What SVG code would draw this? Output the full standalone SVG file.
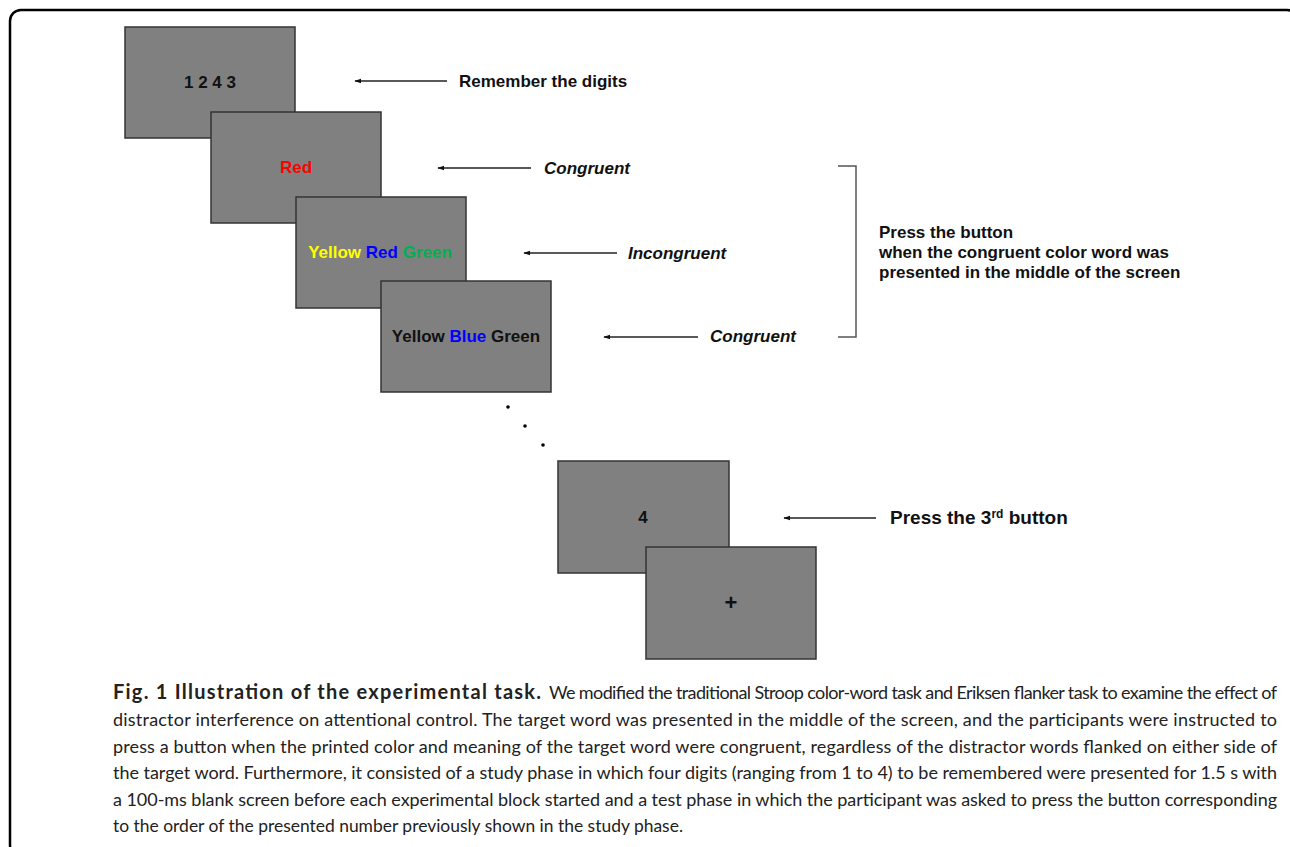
<svg xmlns="http://www.w3.org/2000/svg" width="1290" height="847" viewBox="0 0 1290 847">
<defs>
<marker id="ah" viewBox="0 0 10 10" refX="1" refY="5" markerWidth="7" markerHeight="7" markerUnits="userSpaceOnUse" orient="auto">
<path d="M10,1.5 L0,5 L10,8.5 Z" fill="#111"/>
</marker>
<style>
.scr{fill:#808080;stroke:#333;stroke-width:1.5}
.t{font-family:"Liberation Sans",Arial,sans-serif;font-weight:bold;font-size:17px;fill:#111}
.c{text-anchor:middle}
.i{font-style:italic}
.arr{stroke:#222;stroke-width:1.4;fill:none;marker-start:url(#ah)}
.cap{font-family:Lato,"Open Sans",sans-serif;font-size:18px;fill:#222}
</style>
</defs>
<rect x="10" y="10" width="1288" height="846" rx="11" fill="#fff" stroke="#000" stroke-width="2.5"/>
<g id="screen1"><rect class="scr" x="125" y="27" width="170" height="111"/><text class="t c" x="210" y="88">1 2 4 3</text></g>
<g id="screen2"><rect class="scr" x="211" y="112" width="170" height="111"/><text class="t c" x="296" y="173" style="fill:#ff0000">Red</text></g>
<g id="screen3"><rect class="scr" x="296" y="197" width="170" height="111"/><text class="t c" x="380" y="258"><tspan style="fill:#ffff00">Yellow</tspan> <tspan style="fill:#0000ff">Red</tspan> <tspan style="fill:#00b050">Green</tspan></text></g>
<g id="screen4"><rect class="scr" x="381" y="281" width="170" height="111"/><text class="t c" x="466" y="342">Yellow <tspan style="fill:#0000ff">Blue</tspan> Green</text></g>
<g id="dots" fill="#000"><circle cx="508" cy="407" r="1.8"/><circle cx="525" cy="426" r="1.8"/><circle cx="543" cy="445" r="1.8"/></g>
<g id="screen5"><rect class="scr" x="558" y="461" width="171" height="112"/><text class="t c" x="643" y="523">4</text></g>
<g id="screen6"><rect class="scr" x="646" y="547" width="170" height="112"/><text class="t c" x="731" y="610" style="font-size:22px">+</text></g>
<g id="connectors">
<line class="arr" x1="355" y1="81" x2="447" y2="81"/>
<line class="arr" x1="438" y1="168" x2="531" y2="168"/>
<line class="arr" x1="524" y1="253" x2="617" y2="253"/>
<line class="arr" x1="604" y1="337" x2="698" y2="337"/>
<line class="arr" x1="784" y1="518" x2="876" y2="518"/>
<path d="M838,166 H856 V337 H838" fill="none" stroke="#555" stroke-width="1.5"/>
</g>
<g id="labels">
<text class="t" x="459" y="87">Remember the digits</text>
<text class="t i" x="544" y="174">Congruent</text>
<text class="t i" x="628" y="259">Incongruent</text>
<text class="t i" x="710" y="342">Congruent</text>
<text class="t" x="879" y="238">Press the button</text>
<text class="t" x="879" y="258">when the congruent color word was</text>
<text class="t" x="879" y="278">presented in the middle of the screen</text>
<text class="t" x="890" y="524" style="font-size:19px">Press the 3<tspan dy="-6" style="font-size:12px">rd</tspan><tspan dy="6"> button</tspan></text>
</g>
<g id="caption" class="cap">
<text class="cap" x="113" y="699" textLength="428" lengthAdjust="spacing" style="font-weight:bold;font-size:20px">Fig. 1 Illustration of the experimental task.</text>
<text class="cap" x="549" y="699" textLength="728" lengthAdjust="spacing">We modified the traditional Stroop color-word task and Eriksen flanker task to examine the effect of</text>
<text class="cap" x="113" y="726" textLength="1164" lengthAdjust="spacing">distractor interference on attentional control. The target word was presented in the middle of the screen, and the participants were instructed to</text>
<text class="cap" x="113" y="753" textLength="1164" lengthAdjust="spacing">press a button when the printed color and meaning of the target word were congruent, regardless of the distractor words flanked on either side of</text>
<text class="cap" x="113" y="779" textLength="1164" lengthAdjust="spacing">the target word. Furthermore, it consisted of a study phase in which four digits (ranging from 1 to 4) to be remembered were presented for 1.5 s with</text>
<text class="cap" x="113" y="806" textLength="1164" lengthAdjust="spacing">a 100-ms blank screen before each experimental block started and a test phase in which the participant was asked to press the button corresponding</text>
<text class="cap" x="113" y="832" textLength="570" lengthAdjust="spacingAndGlyphs">to the order of the presented number previously shown in the study phase.</text>
</g>
</svg>
